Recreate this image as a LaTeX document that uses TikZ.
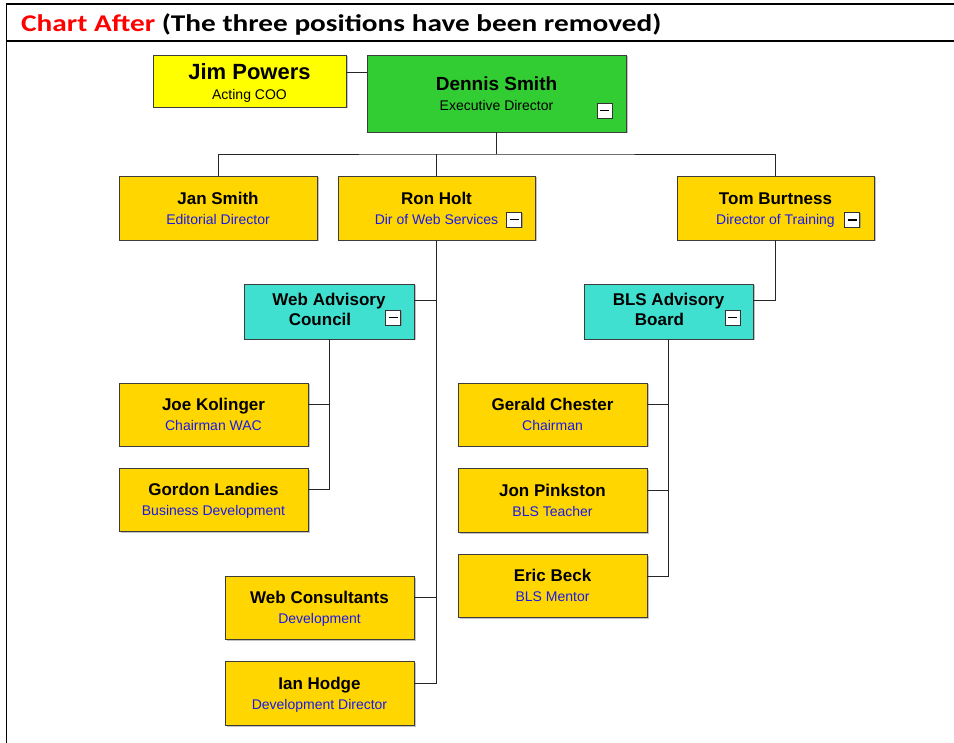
\documentclass[tikz,border=0pt]{standalone}
\usepackage{fontspec}
\setmainfont{Liberation Sans}
\newfontfamily\calibri{Carlito}
\usetikzlibrary{shadows}
\definecolor{gold}{RGB}{255,214,0}
\definecolor{lime}{RGB}{50,205,50}
\definecolor{turq}{RGB}{64,224,208}
\definecolor{yel}{RGB}{255,255,0}
\definecolor{ttl}{RGB}{25,25,235}
\definecolor{edge}{RGB}{60,60,60}
\newcommand{\nmtext}[1]{{\fontsize{17}{20}\selectfont\bfseries\rule{0pt}{15.5pt}#1}}
\newcommand{\nmline}[1]{{\fontsize{17}{20}\selectfont\bfseries #1\strut}}
\newcommand{\tltext}[1]{{\fontsize{14}{20}\selectfont\color{ttl}#1\rule[-3pt]{0pt}{3pt}}}
\tikzset{
  orgbox/.style={draw=edge, line width=0.9pt, rectangle, align=center, inner sep=0pt,
    fill=gold, font=\fontsize{14}{20}\selectfont,
    drop shadow={shadow xshift=1.5pt, shadow yshift=-1.5pt, fill=black!40, opacity=0.6}},
  link/.style={draw=black!85, line width=0.9pt},
  frame/.style={draw=black, line width=1.8pt},
  minusbox/.style={draw=black!80, fill=white, line width=0.8pt, minimum size=15pt, inner sep=0pt,
    drop shadow={shadow xshift=1pt, shadow yshift=-1pt, fill=black!50, opacity=0.6},
    path picture={\draw[black, line width=1.1pt] ([xshift=3pt]path picture bounding box.west) -- ([xshift=-3pt]path picture bounding box.east);}}
}
\begin{document}
\begin{tikzpicture}[x=1pt,y=-1pt]
\useasboundingbox (0,0) rectangle (954,743);
% frame
\draw[frame] (6,4) -- (954,4);
\draw[frame] (6,41) -- (954,41);
\draw[frame] (6.5,3.1) -- (6.5,743);
\node[anchor=base west, inner sep=0pt] (title) at (21,32) {\scalebox{1.22}[1]{\calibri\fontsize{24}{28}\selectfont\bfseries\textcolor{red}{Chart After} (The three positions have been removed)}};

% nodes
\node[orgbox, fill=yel, minimum width=193pt, minimum height=52pt] (jim) at (249.5,81)
  {{\fontsize{22}{22}\selectfont\bfseries\rule{0pt}{19.5pt}Jim Powers}\\{\fontsize{14}{20}\selectfont Acting COO\rule[-3pt]{0pt}{3pt}}};
\node[orgbox, fill=lime, minimum width=259pt, minimum height=77pt] (dennis) at (496.5,93.5)
  {{\fontsize{19}{22}\selectfont\bfseries\rule{0pt}{17.5pt}Dennis Smith}\\{\fontsize{14}{20}\selectfont Executive Director\rule[-3pt]{0pt}{3pt}}};
\node[orgbox, minimum width=198pt, minimum height=64pt] (jan) at (218,208)
  {\nmtext{Jan Smith}\\\tltext{Editorial Director}};
\node[orgbox, minimum width=197pt, minimum height=64pt] (ron) at (436.5,208)
  {\nmtext{Ron Holt}\\\tltext{Dir of Web Services}};
\node[orgbox, minimum width=197pt, minimum height=64pt] (tom) at (775.5,208)
  {\nmtext{Tom Burtness}\\\tltext{Director of Training}};
\node[orgbox, fill=turq, minimum width=170pt, minimum height=55pt] (wac) at (329,311.5)
  {\nmline{Web Advisory}\\\nmline{Council\hspace*{18pt}}};
\node[orgbox, fill=turq, minimum width=169pt, minimum height=55pt] (bls) at (668.5,311.5)
  {\nmline{BLS Advisory}\\\nmline{Board\hspace*{18pt}}};
\node[orgbox, minimum width=189pt, minimum height=63pt] (joe) at (213.5,414.5)
  {\nmtext{Joe Kolinger}\\\tltext{Chairman WAC}};
\node[orgbox, minimum width=189pt, minimum height=63pt] (gordon) at (213.5,499.5)
  {\nmtext{Gordon Landies}\\\tltext{Business Development}};
\node[orgbox, minimum width=189pt, minimum height=63pt] (gerald) at (552.5,414.5)
  {\nmtext{Gerald Chester}\\\tltext{Chairman}};
\node[orgbox, minimum width=189pt, minimum height=64pt] (jon) at (552.5,500)
  {\nmtext{Jon Pinkston}\\\tltext{BLS Teacher}};
\node[orgbox, minimum width=189pt, minimum height=63pt] (eric) at (552.5,585.5)
  {\nmtext{Eric Beck}\\\tltext{BLS Mentor}};
\node[orgbox, minimum width=189pt, minimum height=63pt] (wc) at (319.5,607.5)
  {\nmtext{Web Consultants}\\\tltext{Development}};
\node[orgbox, minimum width=189pt, minimum height=64pt] (ian) at (319.5,693)
  {\nmtext{Ian Hodge}\\\tltext{Development Director}};

% collapse icons
\node[minusbox] (dm) at (604.5,110.5) {};
\node[minusbox] (rm) at (514,219.5) {};
\node[minusbox] (tm) at (852,220) {};
\node[minusbox] (wm) at (393,317.5) {};
\node[minusbox] (bm) at (732.5,317.5) {};

% connectors
\coordinate (bus) at (496.5,154);
\draw[link] ([yshift=9pt]jim.east) -- ([yshift=9pt]jim.east -| dennis.west);
\draw[link] (dennis.south) -- (bus);
\draw[link] (jan.north) |- (bus) -| (tom.north);
\draw[link] (ron.north) -- (ron.north |- bus);
\draw[link] ([yshift=11.5pt]wac.east) -| (ron.south);
\draw[link] ([yshift=10.5pt]wc.east) -| (ron.south);
\draw[link] ([yshift=10pt]ian.east) -| (ron.south);
\draw[link] ([yshift=11.5pt]bls.east) -| (tom.south);
\draw[link] ([yshift=10.5pt]joe.east) -| (wac.south);
\draw[link] ([yshift=10.5pt]gordon.east) -| (wac.south);
\draw[link] ([yshift=10.5pt]gerald.east) -| (bls.south);
\draw[link] ([yshift=10pt]jon.east) -| (bls.south);
\draw[link] ([yshift=9.5pt]eric.east) -| (bls.south);
\end{tikzpicture}
\end{document}
